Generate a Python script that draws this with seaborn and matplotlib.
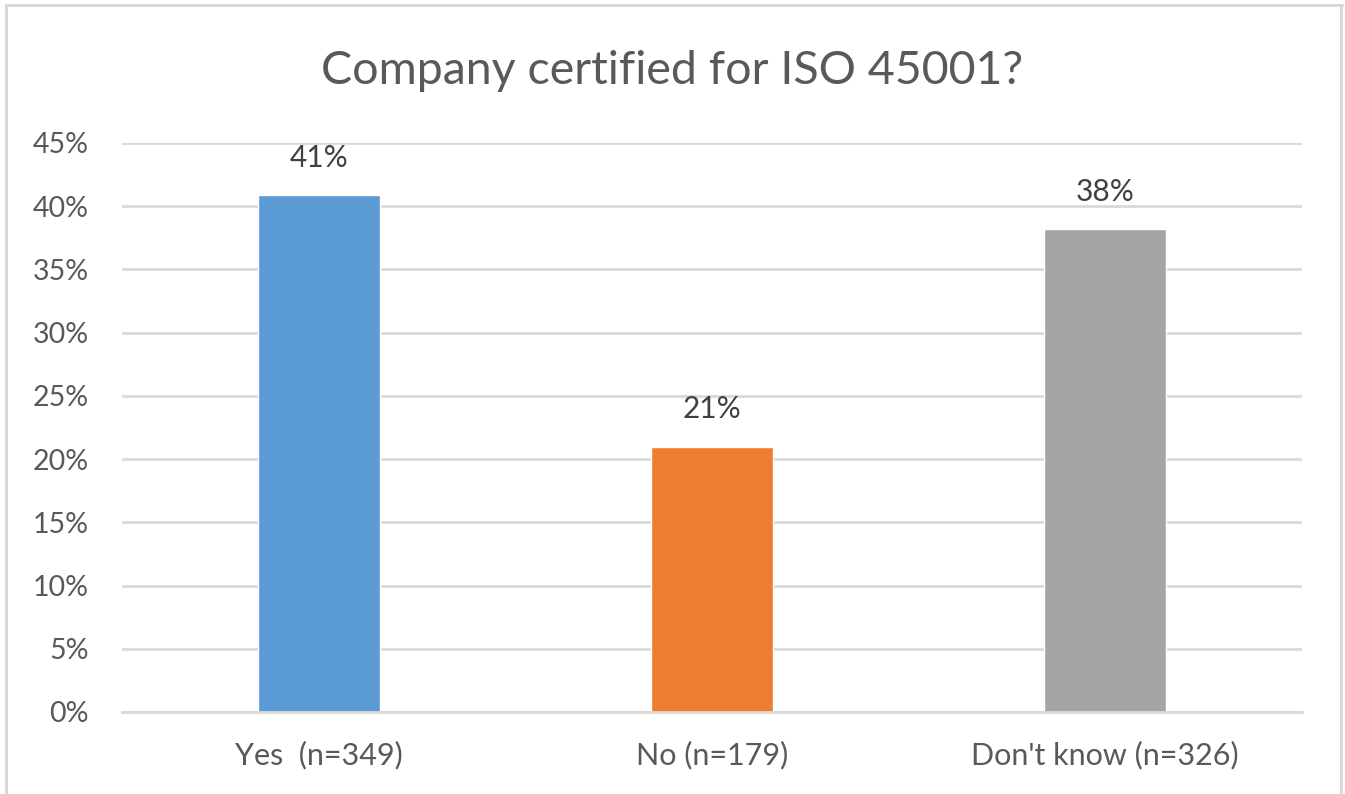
#!/usr/bin/env python3

import numpy as np
import pandas as pd
import seaborn as sns
import matplotlib.pyplot as plt
from matplotlib.patches import Rectangle

# Survey answers and their share of respondents
categories = ["Yes  (n=349)", "No (n=179)", "Don't know (n=326)"]
shares = [40.87, 20.96, 38.17]
value_labels = ["41%", "21%", "38%"]
bar_colors = ["#5B9BD5", "#ED7D31", "#A5A5A5"]
y_ticks = [0, 5, 10, 15, 20, 25, 30, 35, 40, 45]

def main():
    sns.set_style("white")
    plt.rcParams['font.family'] = ['Lato', 'DejaVu Sans']

    df = pd.DataFrame({"answer": categories, "share": shares})

    fig = plt.figure(figsize=(13.45, 7.94), dpi=100)
    ax = fig.add_axes([0.0907, 0.1033, 0.8773, 0.7166])

    sns.barplot(data=df, x="answer", y="share", hue="answer",
                palette=bar_colors, legend=False, width=0.31,
                saturation=1, ax=ax)

    # Excel style light grid
    ax.set_ylim(0, 45)
    ax.set_yticks(y_ticks)
    ax.set_yticklabels([f"{t}%" for t in y_ticks])
    ax.set_axisbelow(True)
    ax.yaxis.grid(True, color="#D9D9D9", linewidth=2)
    for side in ["top", "right", "left"]:
        ax.spines[side].set_visible(False)
    ax.spines["bottom"].set_color("#D9D9D9")
    ax.spines["bottom"].set_linewidth(2)
    ax.set_xlim(-0.5, 2.5)

    ax.tick_params(axis="both", length=0, colors="#595959")
    ax.tick_params(axis="y", pad=24, labelsize=20.5)
    ax.tick_params(axis="x", pad=21, labelsize=22)
    ax.set_xlabel("")
    ax.set_ylabel("")

    # Value labels above each bar
    for i, (v, lab) in enumerate(zip(shares, value_labels)):
        ax.annotate(lab, (i, v), xytext=(0, 17), textcoords="offset points",
                    ha="center", va="bottom", fontsize=21.5, color="#404040")

    fig.text(0.5, 0.911, "Company certified for ISO 45001?", ha="center",
             va="center", fontsize=33.5, color="#595959")

    # Thin frame around the chart area (no bottom edge in the source)
    for xy, w, h in [((0.004, 0.0), 0.0022, 0.994), ((0.004, 0.991), 0.995, 0.004),
                     ((0.9963, 0.0), 0.0022, 0.994)]:
        fig.patches.append(Rectangle(xy, w, h, transform=fig.transFigure,
                                     color="#D9D9D9", linewidth=0))

    plt.savefig("out.png", dpi=100)
    plt.close()

if __name__ == "__main__":
    main()
